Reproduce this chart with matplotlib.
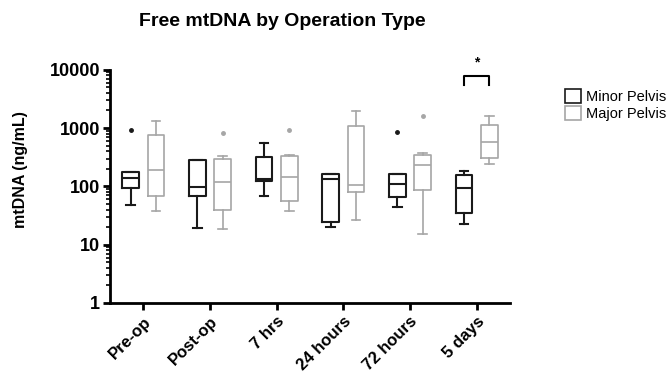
import matplotlib
matplotlib.use("Agg")
import matplotlib.pyplot as plt
import matplotlib.patches as mpatches
from matplotlib.ticker import LogLocator, FixedFormatter, FixedLocator, NullFormatter

plt.rcParams["font.family"] = ["Liberation Sans", "DejaVu Sans"]

TIMEPOINTS = ["Pre-op", "Post-op", "7 hrs", "24 hours", "72 hours", "5 days"]

# box stats: whisker low, q1, median, q3, whisker high, outliers
MINOR_WHISLO = [47, 19, 69, 20, 44, 23]
MINOR_Q1 = [94, 69, 122, 24, 66, 35]
MINOR_MED = [137, 96, 133, 132, 110, 95]
MINOR_Q3 = [178, 283, 314, 165, 162, 156]
MINOR_WHISHI = [178, 283, 553, 165, 162, 183]
MINOR_FLIERS = [[920], [], [], [], [853], []]

MAJOR_WHISLO = [38, 18.6, 38, 26, 15, 245]
MAJOR_Q1 = [69, 39, 57, 79, 86, 310]
MAJOR_MED = [193, 119, 147, 104, 232, 569]
MAJOR_Q3 = [760, 299, 327, 1070, 344, 1110]
MAJOR_WHISHI = [1340, 330, 344, 1950, 372, 1610]
MAJOR_FLIERS = [[], [810], [920], [], [1630], []]

MINOR_COLOR = "#1a1a1a"
MAJOR_COLOR = "#a6a6a6"


def make_stats(whislo, q1, med, q3, whishi, fliers):
    return [
        dict(whislo=a, q1=b, med=c, q3=d, whishi=e, fliers=f)
        for a, b, c, d, e, f in zip(whislo, q1, med, q3, whishi, fliers)
    ]


def draw_group(ax, stats, positions, color, lw):
    ax.bxp(
        stats,
        positions=positions,
        widths=0.25,
        capwidths=0.13,
        showfliers=True,
        boxprops=dict(color=color, linewidth=lw),
        whiskerprops=dict(color=color, linewidth=lw),
        capprops=dict(color=color, linewidth=lw),
        medianprops=dict(color=color, linewidth=lw),
        flierprops=dict(marker="o", markersize=2.5, markerfacecolor=color, markeredgecolor=color),
        manage_ticks=False,
    )


fig = plt.figure(figsize=(6.7, 3.73), dpi=100)
ax = fig.add_axes([0.164, 0.188, 0.597, 0.625])

x = list(range(len(TIMEPOINTS)))
minor_stats = make_stats(MINOR_WHISLO, MINOR_Q1, MINOR_MED, MINOR_Q3, MINOR_WHISHI, MINOR_FLIERS)
major_stats = make_stats(MAJOR_WHISLO, MAJOR_Q1, MAJOR_MED, MAJOR_Q3, MAJOR_WHISHI, MAJOR_FLIERS)
draw_group(ax, minor_stats, [i - 0.19 for i in x], MINOR_COLOR, 1.5)
draw_group(ax, major_stats, [i + 0.19 for i in x], MAJOR_COLOR, 1.2)

ax.set_yscale("log")
ax.set_ylim(1, 10000)
ax.set_xlim(-0.5, 5.5)
ax.yaxis.set_major_locator(FixedLocator([1, 10, 100, 1000, 10000]))
ax.yaxis.set_major_formatter(FixedFormatter(["1", "10", "100", "1000", "10000"]))
ax.yaxis.set_minor_locator(LogLocator(base=10, subs=range(2, 10)))
ax.yaxis.set_minor_formatter(NullFormatter())

ax.set_xticks(x)
ax.set_xticklabels(TIMEPOINTS, rotation=45, ha="right", rotation_mode="anchor",
                   fontsize=12, fontweight="bold")
for lab in ax.get_yticklabels():
    lab.set_fontweight("bold")
    lab.set_fontsize(13)

for side in ("top", "right"):
    ax.spines[side].set_visible(False)
for side in ("left", "bottom"):
    ax.spines[side].set_linewidth(2)
ax.tick_params(axis="both", which="major", direction="out", length=5, width=2, color="black", pad=2)
ax.tick_params(axis="x", which="major", pad=3)
ax.tick_params(axis="y", which="minor", direction="out", length=3, width=1.2)

ax.set_ylabel("mtDNA (ng/mL)", fontsize=11.5, fontweight="bold")
ax.yaxis.set_label_coords(-0.205, 0.57)
fig.text(0.421, 0.943, "Free mtDNA by Operation Type", ha="center", va="center",
         fontsize=14, fontweight="bold")

# significance bracket for 5 days
ax.plot([4.81, 4.81, 5.19, 5.19], [5400, 7950, 7950, 5400], color="black", lw=1.5, clip_on=False)
ax.text(5.0, 10000, "*", ha="center", va="bottom", fontsize=10, fontweight="bold")

handles = [
    mpatches.Patch(facecolor="white", edgecolor=MINOR_COLOR, linewidth=1.2, label="Minor Pelvis"),
    mpatches.Patch(facecolor="white", edgecolor=MAJOR_COLOR, linewidth=1.2, label="Major Pelvis"),
]
fig.legend(handles=handles, loc="upper left", bbox_to_anchor=(0.834, 0.776), frameon=False,
           fontsize=10.5, handlelength=1.1, handleheight=1.1, handletextpad=0.35, labelspacing=0.1,
           borderaxespad=0)

fig.savefig("out.png", dpi=100, facecolor="white")
